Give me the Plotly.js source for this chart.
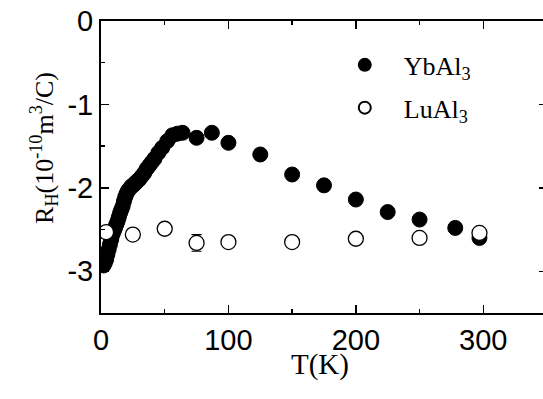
<!DOCTYPE html>
<html>
<head>
<meta charset="utf-8">
<script src="https://cdn.plot.ly/plotly-3.0.1.min.js"></script>
<style>html,body{margin:0;padding:0;overflow:hidden;background:#fff;}</style>
</head>
<body>
<div id="chart"></div>
<script>
// YbAl3 data (T in K, RH in 1e-10 m^3/C)
const ybT = [2, 3, 4, 5, 6, 7, 8, 9, 10, 11, 12, 13, 14, 15, 16, 17, 18, 19, 20, 21, 22, 23, 24, 25, 26, 27, 28, 29, 30, 32, 34, 36, 38, 40, 42, 45, 48, 52, 56, 60, 64, 75, 87, 100, 125, 150, 175, 200, 225, 250, 278, 297];
const ybR = [-2.93, -2.90, -2.86, -2.80, -2.74, -2.68, -2.62, -2.56, -2.52, -2.48, -2.44, -2.40, -2.35, -2.30, -2.26, -2.22, -2.16, -2.11, -2.07, -2.04, -2.02, -2.00, -1.98, -1.97, -1.96, -1.94, -1.93, -1.91, -1.90, -1.86, -1.82, -1.77, -1.73, -1.69, -1.65, -1.58, -1.52, -1.44, -1.37, -1.35, -1.34, -1.40, -1.34, -1.46, -1.60, -1.84, -1.97, -2.14, -2.29, -2.38, -2.48, -2.60];
// LuAl3 data
const luT = [4, 25, 50, 75, 100, 150, 200, 250, 297];
const luR = [-2.53, -2.56, -2.49, -2.66, -2.65, -2.65, -2.61, -2.60, -2.54];
const luErr = [0, 0, 0, 0.1, 0, 0, 0, 0, 0];
// Tick labels
const xTickVals = [0, 100, 200, 300];
const xTickText = ["0", "100", "200", "300"];
const yTickVals = [0, -1, -2, -3];
const yTickText = ["0", "-1", "-2", "-3"];

const traces = [
  {
    x: ybT, y: ybR, type: 'scatter', mode: 'markers', name: 'YbAl<sub>3</sub>',
    legendgroup: 'a',
    marker: {symbol: 'circle', size: 15, color: '#000', line: {color: '#000', width: 1}}
  },
  {
    x: luT, y: luR, type: 'scatter', mode: 'markers', name: 'LuAl<sub>3</sub>',
    legendgroup: 'b',
    error_y: {type: 'data', array: luErr, visible: true, color: '#000', thickness: 1.2, width: 5},
    marker: {symbol: 'circle', size: 15, color: '#fff', line: {color: '#000', width: 1.3}}
  }
];

const serif = 'Liberation Serif, Times New Roman, serif';
const axisCommon = {
  showline: true, linecolor: '#000', linewidth: 2, mirror: 'ticks',
  ticks: 'inside', ticklen: 8, tickwidth: 1.5, tickcolor: '#000',
  showgrid: false, zeroline: false,
  tickfont: {family: 'Liberation Sans, Arial, sans-serif', size: 29, color: '#000'},
  tickmode: 'array'
};

const layout = {
  width: 547, height: 399,
  margin: {l: 101, r: 0, t: 21, b: 86},
  paper_bgcolor: '#fff', plot_bgcolor: '#fff',
  showlegend: true,
  legend: {
    x: 0.504, xanchor: 'left', y: 0.93, yanchor: 'top',
    font: {family: serif, size: 26, color: '#000'},
    bgcolor: 'rgba(0,0,0,0)', tracegroupgap: 6, itemsizing: 'constant', itemwidth: 68
  },
  xaxis: Object.assign({}, axisCommon, {
    range: [0, 350], tickvals: xTickVals, ticktext: xTickText,
    minor: {tickmode: 'linear', tick0: 0, dtick: 50, ticks: 'inside', ticklen: 4, tickwidth: 1.5, tickcolor: '#000'}
  }),
  yaxis: Object.assign({}, axisCommon, {
    range: [-3.5, 0], tickvals: yTickVals, ticktext: yTickText,
    minor: {tickmode: 'linear', tick0: 0, dtick: 0.5, ticks: 'inside', ticklen: 4, tickwidth: 1.5, tickcolor: '#000'}
  }),
  annotations: [
    {
      text: 'R<sub>H</sub>(10<sup>-10</sup>m<sup>3</sup>/C)',
      textangle: -90, xref: 'paper', yref: 'paper', x: -0.128, y: 0.565,
      xanchor: 'center', yanchor: 'middle', showarrow: false,
      font: {family: serif, size: 26, color: '#000'}
    },
    {
      text: 'T(K)', xref: 'paper', yref: 'paper', x: 0.49, y: -0.178,
      xanchor: 'center', yanchor: 'middle', showarrow: false,
      font: {family: serif, size: 29, color: '#000'}
    }
  ]
};

Plotly.newPlot('chart', traces, layout, {displayModeBar: false, staticPlot: true});
</script>
</body>
</html>
